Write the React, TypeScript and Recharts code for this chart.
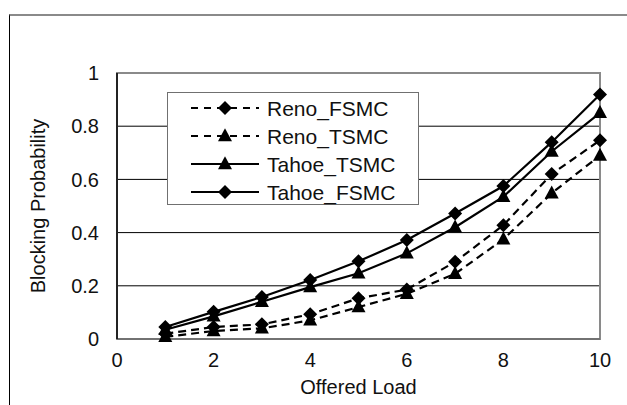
import React from "react";
import { LineChart, Line, XAxis, YAxis, CartesianGrid, ReferenceArea, Label } from "recharts";

const offeredLoad = [1, 2, 3, 4, 5, 6, 7, 8, 9, 10];
const renoFsmc = [0.02, 0.045, 0.055, 0.093, 0.153, 0.186, 0.29, 0.428, 0.62, 0.747];
const renoTsmc = [0.008, 0.03, 0.04, 0.07, 0.12, 0.17, 0.245, 0.375, 0.548, 0.69];
const tahoeTsmc = [0.035, 0.085, 0.14, 0.195, 0.247, 0.322, 0.42, 0.535, 0.705, 0.85];
const tahoeFsmc = [0.045, 0.102, 0.158, 0.222, 0.292, 0.372, 0.472, 0.575, 0.74, 0.919];

const xTicks = [0, 2, 4, 6, 8, 10];
const yTicks = [0, 0.2, 0.4, 0.6, 0.8, 1];

const seriesNames = ["Reno_FSMC", "Reno_TSMC", "Tahoe_TSMC", "Tahoe_FSMC"];
const seriesKeys = ["renoFsmc", "renoTsmc", "tahoeTsmc", "tahoeFsmc"];
const seriesMarkers = ["diamond", "triangle", "triangle", "diamond"];
const seriesDashed = [true, true, false, false];

const data = offeredLoad.map((x, i) => ({
  x,
  renoFsmc: renoFsmc[i],
  renoTsmc: renoTsmc[i],
  tahoeTsmc: tahoeTsmc[i],
  tahoeFsmc: tahoeFsmc[i],
}));

const FONT = "'Liberation Sans', Arial, sans-serif";
const DASH = "8 5";

function Marker({ cx, cy, kind }: { cx: number; cy: number; kind: string }) {
  if (kind === "diamond") {
    const r = 7;
    return <path d={`M${cx},${cy - r}L${cx + r},${cy}L${cx},${cy + r}L${cx - r},${cy}Z`} fill="#000" />;
  }
  const w = 7;
  const h = 13;
  return <path d={`M${cx},${cy - h * 0.6}L${cx + w},${cy + h * 0.4}L${cx - w},${cy + h * 0.4}Z`} fill="#000" />;
}

function makeDot(kind: string) {
  return (props: any) => {
    const { cx, cy, index } = props;
    if (cx == null || cy == null) return <g key={`d-${index}`} />;
    return (
      <g key={`d-${kind}-${index}`}>
        <Marker cx={cx} cy={cy} kind={kind} />
      </g>
    );
  };
}

function LegendBox() {
  return (
    <div
      style={{
        position: "absolute",
        left: 167,
        top: 92,
        width: 252,
        height: 113,
        boxSizing: "border-box",
        border: "1px solid #707070",
        background: "#fff",
        paddingTop: 1,
        fontFamily: FONT,
      }}
    >
      {seriesNames.map((name, i) => (
        <div key={name} style={{ height: 28, position: "relative" }}>
          <svg width={96} height={28} style={{ position: "absolute", left: 0, top: 0 }}>
            <line
              x1={23}
              x2={91}
              y1={14}
              y2={14}
              stroke="#000"
              strokeWidth={2}
              strokeDasharray={seriesDashed[i] ? "7 6" : undefined}
            />
            <Marker cx={57} cy={14} kind={seriesMarkers[i]} />
          </svg>
          <span style={{ position: "absolute", left: 99, top: 1, fontSize: 21, lineHeight: "28px", color: "#111", whiteSpace: "nowrap" }}>
            {name}
          </span>
        </div>
      ))}
    </div>
  );
}

export default function App() {
  return (
    <div style={{ position: "absolute", left: 0, top: 0, width: 627, height: 405, background: "#fff", overflow: "hidden" }}>
      <div
        style={{
          position: "absolute",
          left: 9,
          top: 14,
          width: 618,
          height: 391,
          boxSizing: "border-box",
          borderTop: "2px solid #8a8a8a",
          borderLeft: "1px solid #000",
        }}
      />
      <div style={{ position: "absolute", left: 0, top: 0 }}>
        <LineChart
          width={627}
          height={405}
          data={data}
          margin={{ top: 73, right: 27, bottom: 0, left: 0 }}
          style={{ fontFamily: FONT }}
        >
          <CartesianGrid horizontal={true} vertical={false} stroke="#000" strokeWidth={1} />
          <ReferenceArea x1={0} x2={10} y1={0} y2={1} fill="none" stroke="#8a8a8a" strokeWidth={2} ifOverflow="visible" />
          <XAxis
            dataKey="x"
            type="number"
            domain={[0, 10]}
            ticks={xTicks}
            height={66}
            tickSize={0}
            tickMargin={14}
            axisLine={{ stroke: "#6a6a6a", strokeWidth: 1.5 }}
            tick={{ fill: "#111", fontSize: 20, fontFamily: FONT }}
          >
            <Label value="Offered Load" position="insideBottom" offset={11} fill="#111" fontSize={20} fontFamily={FONT} />
          </XAxis>
          <YAxis
            type="number"
            domain={[0, 1]}
            ticks={yTicks}
            width={117}
            tickSize={0}
            tickMargin={18}
            axisLine={{ stroke: "#000", strokeWidth: 1.5 }}
            tick={{ fill: "#111", fontSize: 20, fontFamily: FONT }}
          >
            <Label
              content={(props: any) => {
                const vb = props.viewBox || { x: 0, y: 73, width: 117, height: 266 };
                const cx = vb.x + 38;
                const cy = vb.y + vb.height / 2;
                return (
                  <text
                    transform={`translate(${cx},${cy}) rotate(-90)`}
                    textAnchor="middle"
                    dominantBaseline="central"
                    fill="#111"
                    fontSize={20}
                    fontFamily={FONT}
                  >
                    Blocking Probability
                  </text>
                );
              }}
            />
          </YAxis>
          {seriesKeys.map((k, i) => (
            <Line
              key={k}
              dataKey={k}
              name={seriesNames[i]}
              stroke="#000"
              strokeWidth={2.2}
              strokeDasharray={seriesDashed[i] ? DASH : undefined}
              dot={makeDot(seriesMarkers[i])}
              activeDot={false}
              isAnimationActive={false}
              type="linear"
            />
          ))}
        </LineChart>
      </div>
      <LegendBox />
    </div>
  );
}
